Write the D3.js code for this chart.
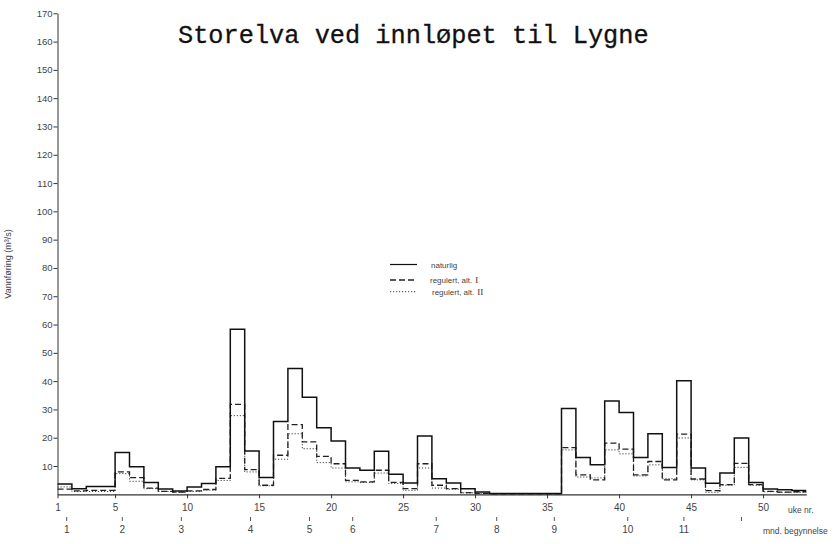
<!DOCTYPE html>
<html><head><meta charset="utf-8">
<script src="https://cdn.jsdelivr.net/npm/d3@7"></script>
<style>
html,body{margin:0;padding:0;background:#fff;}
svg{display:block;}
text{font-family:"Liberation Sans",Arial,sans-serif;fill:#444;}
</style></head>
<body>
<svg id="chart" width="840" height="544"></svg>
<script>
const weeks = d3.range(1, 53);
const naturlig = [3.6, 2.0, 2.8, 2.8, 14.8, 9.7, 4.2, 1.9, 1.2, 2.6, 3.8, 9.7, 58.3, 15.3, 5.9, 25.7, 44.5, 34.3, 23.5, 18.8, 9.3, 8.5, 15.2, 7.1, 4.0, 20.6, 5.5, 4.0, 2.0, 0.8, 0.3, 0.3, 0.3, 0.3, 0.3, 30.3, 13.0, 10.4, 33.0, 28.9, 13.0, 21.4, 9.5, 40.1, 9.3, 3.9, 7.5, 19.9, 4.2, 1.9, 1.6, 1.3];
const altI = [1.8, 1.2, 1.4, 1.4, 7.9, 5.9, 2.2, 1.0, 0.8, 1.2, 1.7, 5.6, 31.8, 8.7, 3.2, 13.8, 24.6, 18.5, 13.4, 10.8, 4.9, 4.4, 8.5, 4.2, 2.0, 10.8, 3.2, 2.0, 0.6, 0.3, 0.2, 0.2, 0.2, 0.2, 0.2, 16.5, 6.9, 5.1, 18.1, 16.0, 6.9, 11.6, 5.1, 21.3, 5.4, 1.3, 3.4, 10.9, 3.4, 1.0, 0.8, 0.9];
const altII = [2.6, 1.0, 1.0, 1.0, 7.3, 4.6, 2.0, 1.0, 0.7, 1.0, 1.5, 4.9, 27.8, 7.9, 3.0, 12.4, 21.4, 16.1, 11.2, 9.3, 4.4, 4.2, 7.5, 3.8, 1.4, 9.3, 2.2, 1.8, 0.5, 0.3, 0.2, 0.2, 0.2, 0.2, 0.2, 15.7, 6.1, 5.8, 15.7, 14.3, 6.5, 10.4, 5.5, 19.9, 5.1, 0.7, 3.2, 9.5, 3.2, 0.9, 0.7, 0.7];
const yTicks = d3.range(10, 171, 10);
const weekTicks = [1, 5, 10, 15, 20, 25, 30, 35, 40, 45, 50];
const monthLabels = ["1", "2", "3", "4", "5", "6", "7", "8", "9", "10", "11", ""];
const monthWeeks = [1.64, 5.5, 9.6, 14.4, 18.5, 21.5, 27.3, 31.5, 35.5, 40.6, 44.5, 48.5];
const seriesNames = ["naturlig", "regulert, alt.", "regulert, alt."];
const seriesNumerals = ["", "I", "II"];

const svg = d3.select("#chart");
const x = d3.scaleLinear().domain([1, 53]).range([57.5, 806.3]);
const y = d3.scaleLinear().domain([0, 170]).range([494.3, 13.3]);

// title
svg.append("text").attr("x", 178).attr("y", 43)
  .style("font-family", "'Liberation Mono','DejaVu Sans Mono',monospace")
  .style("font-size", "25.3px").style("fill", "#111")
  .attr("stroke", "#111").attr("stroke-width", 0.3)
  .text("Storelva ved innløpet til Lygne");

// y axis
const yAxis = svg.append("g").attr("transform", `translate(${x(1)},0)`)
  .call(d3.axisLeft(y).tickValues(yTicks).tickSize(4).tickSizeOuter(0).tickPadding(1));
yAxis.select(".domain").attr("stroke", "#333").attr("stroke-width", 1);
yAxis.selectAll(".tick line").attr("stroke", "#333");
yAxis.selectAll(".tick text").style("font-size", "9.5px").style("font-family", "'Liberation Sans',Arial,sans-serif").attr("fill", "#555");

// x axis
const xAxis = svg.append("g").attr("transform", `translate(0,${y(0)})`)
  .call(d3.axisBottom(x).tickValues(weekTicks).tickSize(4).tickSizeOuter(0).tickPadding(6));
xAxis.select(".domain").attr("stroke", "#333").attr("stroke-width", 1.2);
xAxis.selectAll(".tick line").attr("stroke", "#333");
xAxis.selectAll(".tick text").style("font-size", "10px").style("font-family", "'Liberation Sans',Arial,sans-serif").attr("fill", "#555");
svg.append("text").attr("x", 788).attr("y", 513).style("font-size", "8.5px").attr("fill", "#555").text("uke nr.");

// month row
const mg = svg.append("g");
monthWeeks.forEach((w, i) => {
  mg.append("line").attr("x1", x(w)).attr("x2", x(w)).attr("y1", 517).attr("y2", 521)
    .attr("stroke", "#555").attr("stroke-width", 1);
  mg.append("text").attr("x", x(w)).attr("y", 533).attr("text-anchor", "middle")
    .style("font-size", "10px").attr("fill", "#555").text(monthLabels[i]);
});
svg.append("text").attr("x", 763).attr("y", 534).style("font-size", "8.5px").attr("fill", "#555").text("mnd. begynnelse");

// y label
svg.append("text").attr("transform", "translate(11,264) rotate(-90)").attr("text-anchor", "middle")
  .style("font-size", "9px").attr("fill", "#555").text("Vannføring (m³/s)");

// series
const styles = [
  {dash: null, w: 1.5, c: "#111"},
  {dash: "6,3", w: 1.3, c: "#222"},
  {dash: "1.2,1.8", w: 1.0, c: "#444"}
];
const line = d3.line().x(d => x(d[0])).y(d => y(d[1])).curve(d3.curveStepAfter);
[altII, altI, naturlig].forEach((s) => {
  const idx = s === naturlig ? 0 : (s === altI ? 1 : 2);
  const pts = weeks.map((w, i) => [w, s[i]]);
  pts.push([53, s[s.length - 1]]);
  const p = svg.append("path").attr("d", line(pts)).attr("fill", "none")
    .attr("stroke", styles[idx].c).attr("stroke-width", styles[idx].w);
  if (styles[idx].dash) p.attr("stroke-dasharray", styles[idx].dash);
});

// legend
const legY = [264.5, 280, 291.7];
const legTX = [431, 430, 432];
seriesNames.forEach((n, i) => {
  const l = svg.append("line").attr("x1", 390).attr("x2", 417).attr("y1", legY[i]).attr("y2", legY[i])
    .attr("stroke", styles[i].c).attr("stroke-width", i === 0 ? 1.2 : styles[i].w);
  if (styles[i].dash) l.attr("stroke-dasharray", styles[i].dash);
  const t = svg.append("text").attr("x", legTX[i]).attr("y", legY[i] + 3).style("font-size", "8px").attr("fill", "#555");
  t.append("tspan").text(n);
  if (seriesNumerals[i]) t.append("tspan").attr("dx", 3)
    .style("font-family", "'Liberation Serif','DejaVu Serif',serif").style("font-size", "9px").attr("fill", "#333")
    .text(seriesNumerals[i]);
});
</script>
</body></html>
